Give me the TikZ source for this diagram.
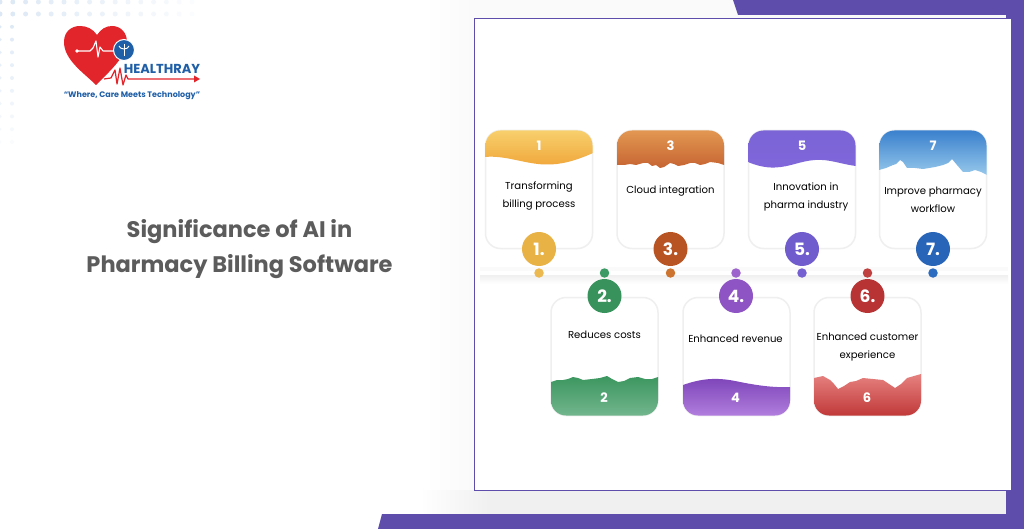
\documentclass[tikz,border=0pt]{standalone}
\usepackage{fontspec}
\setmainfont{Poppins}
\usetikzlibrary{shadings}
\definecolor{framePurple}{HTML}{5E4DAB}
\definecolor{titleGray}{HTML}{5C5C5C}
\definecolor{logoRed}{HTML}{E2242B}
\definecolor{logoBlue}{HTML}{1F5FA8}
\definecolor{cardEdge}{HTML}{EFEFEF}
\definecolor{dotBlue}{HTML}{DCE8F6}
\tikzset{
	card/.style={rectangle, draw=cardEdge, line width=1.5pt, fill=white, rounded corners=15pt, minimum width=107pt, minimum height=118pt},
	cardText/.style={text=black, font=\fontsize{10.1}{18}\selectfont, align=center},
	cardNum/.style={text=white, font=\fontsize{13}{13}\selectfont\bfseries},
	badge/.style={circle, minimum size=34pt, inner sep=0pt, text=white, font=\fontsize{17}{17}\selectfont\bfseries},
	lineDot/.style={circle, minimum size=9.5pt, inner sep=0pt},
	gridDot/.style={circle, fill=dotBlue, inner sep=0pt}
}
\begin{document}
\begin{tikzpicture}[x=1pt,y=-1pt]
	\useasboundingbox (0,0) rectangle (1024,529);
	\fill[white] (0,0) rectangle (1024,529);

	%Dot grid
	\foreach \col in {0,...,15}{
		\node[gridDot, opacity=1-\col/17, minimum size=5pt] (topRowA\col) at (0+12.8*\col,2) {};
		\node[gridDot, opacity=1-\col/17, minimum size=5pt] (topRowB\col) at (0+12.8*\col,14) {};
	}
	\foreach \row in {1,...,10}{
		\node[gridDot, opacity=1-\row/12, minimum size=3.5pt] (sideRowA\row) at (0,14+12.8*\row) {};
		\node[gridDot, opacity=1-\row/12, minimum size=4pt] (sideRowB\row) at (12,14+12.8*\row) {};
	}

	%Panel shadow
	\shade[left color=white, right color=black!2] (425,0) rectangle (474,490);
	\fill[black!2] (474,0) rectangle (1006,18);
	\shade[left color=white, right color=black!6] (420,490) rectangle (490,514);
	\fill[black!6] (490,490) rectangle (1006,514);

	%Frame
	\fill[framePurple] (733,0) -- (1024,0) -- (1024,529) -- (378,529) -- (382,514) -- (1006,514) -- (1006,15) -- (738,15) -- cycle;
	\node[rectangle, draw=framePurple, line width=0.9pt, fill=white, minimum width=537pt, minimum height=472pt, inner sep=0pt] (panel) at (742.5,254) {};

	%Title
	\node[text=titleGray, font=\fontsize{22.5}{35}\selectfont\bfseries, align=center] (title) at (239.5,249) {Significance of AI in\\Pharmacy Billing Software};

	%Logo
	\fill[logoRed] (96,85) .. controls (84,73) and (64,60) .. (64,42) .. controls (64,31) and (72,26) .. (80,26) .. controls (87,26) and (93,29) .. (97,35) .. controls (101,29) and (106,26) .. (112,26) .. controls (121,26) and (127,33) .. (127,42) .. controls (127,56) and (108,73) .. (96,85) -- cycle;
	\draw[white, line width=1.1pt, line join=round] (77,51) -- (90,51) -- (93,48) -- (96,41) -- (98,57) -- (100,47) -- (103,51) -- (115,51);
	\fill[white] (77,51) circle (1.8);
	\node[circle, fill=logoBlue, draw=white, line width=1pt, minimum size=21pt, inner sep=0pt] (logoCircle) at (124,50) {};
	\draw[white, line width=0.9pt] (124,44) -- (124,56);
	\draw[white, line width=0.9pt] (119,46) .. controls (120,50) and (128,50) .. (129,46);
	\draw[logoRed, line width=1.2pt, line join=round] (104,79) -- (111,78) -- (115,70) -- (117,84) -- (120,68) -- (123,85) -- (126,75) -- (128,79) -- (197,79);
	\fill[logoRed] (194,75.5) -- (200,79) -- (194,82.5) -- cycle;
	\node[text=logoBlue, font=\fontsize{13}{13}\selectfont\bfseries, inner sep=0pt] (logoName) at (162,69) {HEALTHRAY};
	\node[text=logoBlue, font=\fontsize{8}{8}\selectfont\bfseries, inner sep=0pt] (logoTag) at (132,95.5) {“Where, Care Meets Technology”};

	%Timeline
	\fill[black!2] (480,267) rectangle (1008,271);
	\fill[white] (480,271) rectangle (1008,275);
	\shade[top color=black!6, bottom color=white] (480,275) rectangle (1008,284);

	%Cards
	\node[card] (firstCard) at (539,189.5) {};
	\node[card] (thirdCard) at (670.5,189.5) {};
	\node[card] (fifthCard) at (802,189.5) {};
	\node[card] (seventhCard) at (933,189.5) {};
	\node[card] (secondCard) at (604.5,356.5) {};
	\node[card] (fourthCard) at (736.5,356.5) {};
	\node[card] (sixthCard) at (867.5,356.5) {};

	%Bands
	\begin{scope}
		\clip[rounded corners=15pt] (485.5,130.5) rectangle (592.5,248.5);
		\shade[top color={rgb,255:red,248;green,208;blue,110}, bottom color={rgb,255:red,240;green,168;blue,60}] (485,130) -- (593,130) -- (593,153) .. controls (575,161) and (560,165) .. (545,164.5) .. controls (525,164) and (505,155) .. (485,157) -- cycle;
	\end{scope}
	\begin{scope}
		\clip[rounded corners=15pt] (617,130.5) rectangle (724,248.5);
		\shade[top color={rgb,255:red,226;green,152;blue,82}, bottom color={rgb,255:red,198;green,100;blue,50}] (617,130) -- (724,130) -- (724,165) -- (718,163) -- (710,162) -- (705,164) -- (700,165) -- (695,163) -- (690,163) -- (684,165) -- (678,166) -- (674,164) -- (670,163) -- (664,167) -- (660,168) -- (656,165) -- (652,166) -- (648,163) -- (643,163) -- (636,165) -- (630,164) -- (624,165) -- (617,165) -- cycle;
	\end{scope}
	\begin{scope}
		\clip[rounded corners=15pt] (748.5,130.5) rectangle (855.5,248.5);
		\shade[top color={rgb,255:red,122;green,100;blue,214}, bottom color={rgb,255:red,128;green,102;blue,218}] (748,130) -- (856,130) -- (856,166) .. controls (840,164) and (830,159) .. (815,160) .. controls (800,161) and (790,167) .. (775,167.5) .. controls (765,168) and (755,165) .. (748,162) -- cycle;
	\end{scope}
	\begin{scope}
		\clip[rounded corners=15pt] (879.5,130.5) rectangle (986.5,248.5);
		\shade[top color={rgb,255:red,58;green,128;blue,205}, bottom color={rgb,255:red,150;green,200;blue,235}] (879,130) -- (987,130) -- (987,175) -- (981,172) -- (975,170) -- (969,172) -- (963,172) -- (957,165) -- (952,159) -- (948,163) -- (943,165) -- (935,167) -- (923,169) -- (915,168) -- (907,168) -- (903,162) -- (900,160) -- (896,164) -- (893,165) -- (886,168) -- (879,170) -- cycle;
	\end{scope}
	\begin{scope}
		\clip[rounded corners=15pt] (551,297.5) rectangle (658,415.5);
		\shade[top color={rgb,255:red,60;green,150;blue,95}, bottom color={rgb,255:red,115;green,182;blue,142}] (551,416) -- (658,416) -- (658,377) -- (652,379) -- (645,379) -- (638,377) -- (630,378) -- (624,381) -- (618,382) -- (612,379) -- (607,376) -- (600,378) -- (592,379) -- (583,380) -- (578,378) -- (573,377) -- (568,379) -- (563,380) -- (557,380) -- (551,382) -- cycle;
	\end{scope}
	\begin{scope}
		\clip[rounded corners=15pt] (683,297.5) rectangle (790,415.5);
		\shade[top color={rgb,255:red,124;green,68;blue,184}, bottom color={rgb,255:red,178;green,126;blue,222}] (683,416) -- (790,416) -- (790,387) .. controls (770,388) and (750,384) .. (735,381) .. controls (715,377) and (700,379) .. (683,385) -- cycle;
	\end{scope}
	\begin{scope}
		\clip[rounded corners=15pt] (814,297.5) rectangle (921,415.5);
		\shade[top color={rgb,255:red,230;green,130;blue,128}, bottom color={rgb,255:red,192;green,56;blue,56}] (814,416) -- (921,416) -- (921,374) -- (914,376) -- (907,378) -- (901,384) -- (895,388) -- (889,384) -- (883,380) -- (873,379) -- (863,378) -- (856,381) -- (850,382) -- (844,386) -- (838,389) -- (834,384) -- (830,380) -- (823,376) -- (814,378) -- cycle;
	\end{scope}

	%Numbers
	\node[cardNum] (firstNum) at (539,146) {1};
	\node[cardNum] (thirdNum) at (670.5,146) {3};
	\node[cardNum] (fifthNum) at (802,146) {5};
	\node[cardNum] (seventhNum) at (933,146) {7};
	\node[cardNum] (secondNum) at (604,398) {2};
	\node[cardNum] (fourthNum) at (735.5,398) {4};
	\node[cardNum] (sixthNum) at (867,398) {6};

	%Texts
	\node[cardText] (firstText) at (539,196) {Transforming\\billing process};
	\node[cardText] (thirdText) at (670.5,191) {Cloud integration};
	\node[cardText] (fifthText) at (806,197) {Innovation in\\pharma industry};
	\node[cardText] (seventhText) at (933,200) {Improve pharmacy\\workflow};
	\node[cardText] (secondText) at (604.5,335) {Reduces costs};
	\node[cardText] (fourthText) at (735.5,339) {Enhanced revenue};
	\node[cardText] (sixthText) at (867.5,347) {Enhanced customer\\experience};

	%Circles
	\node[badge, fill={rgb,255:red,232;green,178;blue,68}] (firstBadge) at (539,249) {1.};
	\node[badge, fill={rgb,255:red,184;green,84;blue,36}] (thirdBadge) at (670.5,249) {3.};
	\node[badge, fill={rgb,255:red,112;green,92;blue,204}] (fifthBadge) at (802,249) {5.};
	\node[badge, fill={rgb,255:red,40;green,100;blue,184}] (seventhBadge) at (933,249) {7.};
	\node[badge, fill={rgb,255:red,56;green,146;blue,92}] (secondBadge) at (604.5,296) {2.};
	\node[badge, fill={rgb,255:red,142;green,84;blue,196}] (fourthBadge) at (736,296) {4.};
	\node[badge, fill={rgb,255:red,184;green,52;blue,52}] (sixthBadge) at (867.5,296) {6.};

	%Dots
	\node[lineDot, fill={rgb,255:red,236;green,184;blue,80}] (firstDot) at (539,273) {};
	\node[lineDot, fill={rgb,255:red,60;green,154;blue,100}] (secondDot) at (604.5,273) {};
	\node[lineDot, fill={rgb,255:red,204;green,116;blue,48}] (thirdDot) at (670.5,273) {};
	\node[lineDot, fill={rgb,255:red,156;green,100;blue,204}] (fourthDot) at (736,273) {};
	\node[lineDot, fill={rgb,255:red,116;green,96;blue,208}] (fifthDot) at (802,273) {};
	\node[lineDot, fill={rgb,255:red,192;green,64;blue,64}] (sixthDot) at (867.5,273) {};
	\node[lineDot, fill={rgb,255:red,44;green,108;blue,192}] (seventhDot) at (933,273) {};
\end{tikzpicture}
\end{document}
